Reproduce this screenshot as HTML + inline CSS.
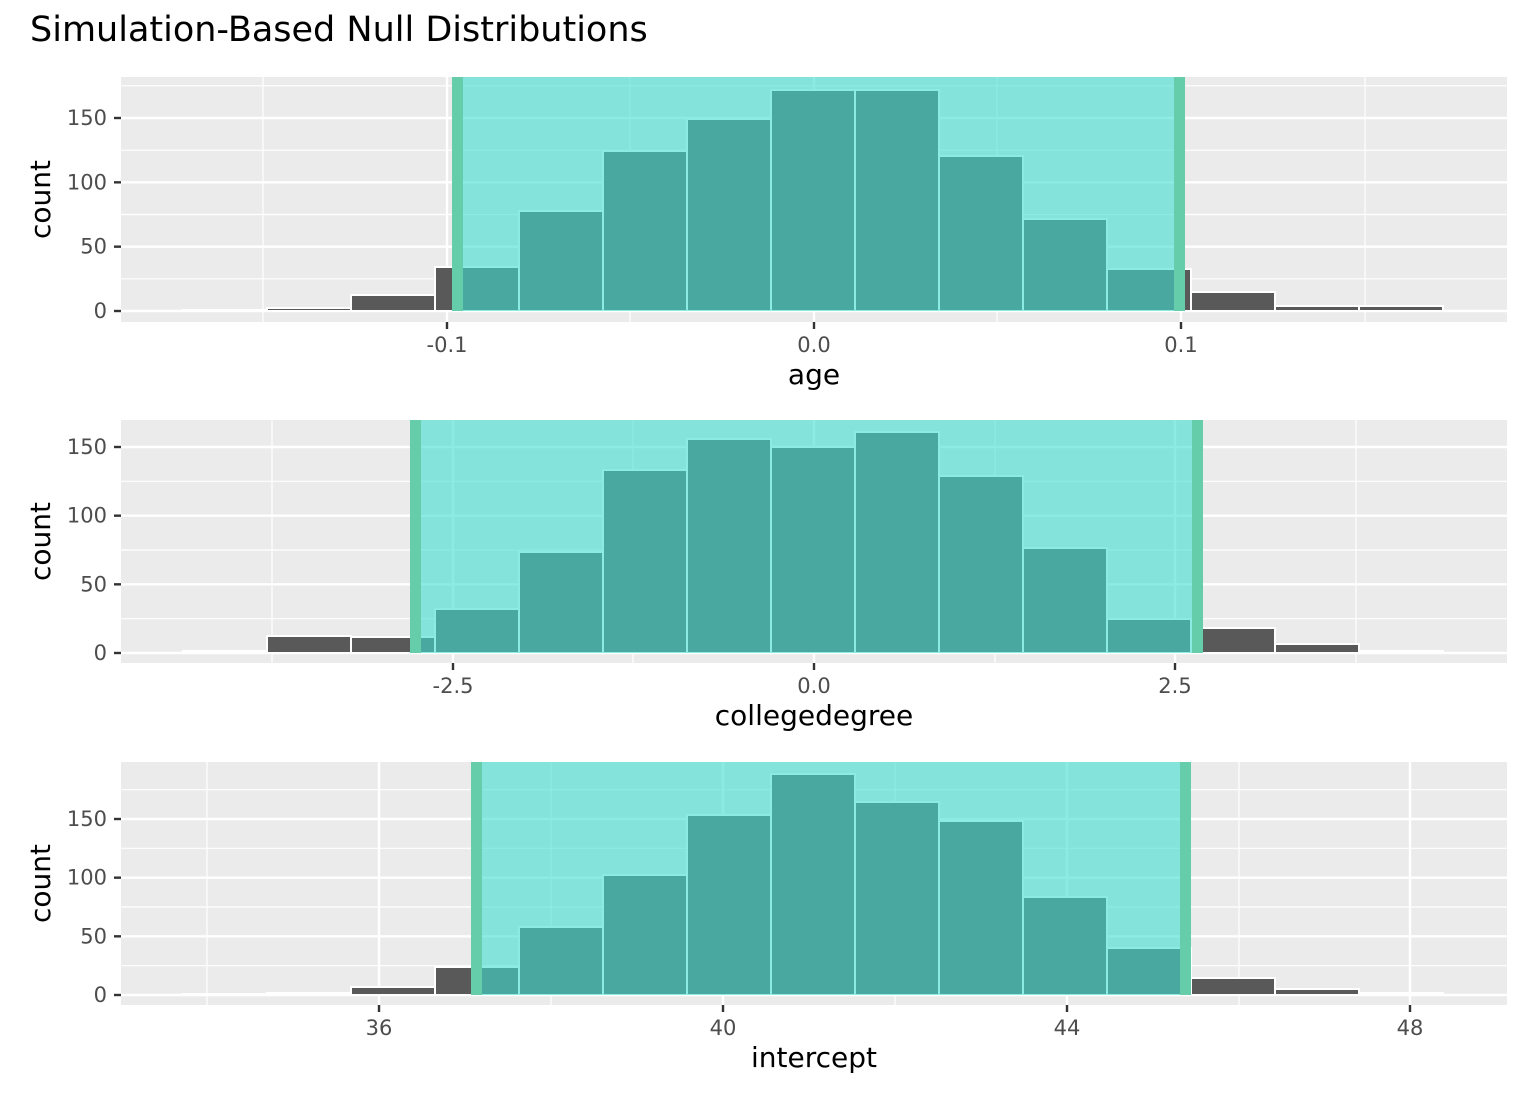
<!DOCTYPE html>
<html><head><meta charset="utf-8"><style>body{margin:0;background:#fff}svg{display:block}</style></head>
<body>
<svg id="s" width="1536" height="1104" xmlns="http://www.w3.org/2000/svg" font-family="DejaVu Sans, sans-serif"></svg>
<script>
const P=[
 {top:77,bot:322,base:311,per:(311-118)/150,yt:[0,50,100,150],xt:[[447,"-0.1"],[814,"0.0"],[1181,"0.1"]],xm:[263,630,997,1365],
  tops:[310,308,295,267,211,151,119,90,90,156,219,269,292,306,306],sh:[452,1185],lab:"age"},
 {top:420,bot:663,base:653,per:(653-447)/150,yt:[0,50,100,150],xt:[[453,"-2.5"],[814,"0.0"],[1175,"2.5"]],xm:[272,633,995,1356],
  tops:[651,636,637,609,552,470,439,447,432,476,548,619,628,644,651],sh:[410,1203],lab:"collegedegree"},
 {top:762,bot:1005,base:995,per:(995-819)/150,yt:[0,50,100,150],xt:[[379,"36"],[723,"40"],[1067,"44"],[1410,"48"]],xm:[207,551,895,1239],
  tops:[994,993,987,967,927,875,815,774,802,821,897,948,978,989,993],sh:[471,1191],lab:"intercept"}];
let h='<text x="30" y="41" font-size="35" fill="#000">Simulation-Based Null Distributions</text>';
for(const p of P){
 h+=`<rect x="121" y="${p.top}" width="1386" height="${p.bot-p.top}" fill="#EBEBEB"/>`;
 for(let c=25;;c+=50){const y=p.base-c*p.per;if(y<p.top)break;h+=`<line x1="121" x2="1507" y1="${y}" y2="${y}" stroke="#fff" stroke-width="1.2"/>`;}
 for(const x of p.xm)h+=`<line x1="${x}" x2="${x}" y1="${p.top}" y2="${p.bot}" stroke="#fff" stroke-width="1.2"/>`;
 for(const c of p.yt){const y=p.base-c*p.per;h+=`<line x1="121" x2="1507" y1="${y}" y2="${y}" stroke="#fff" stroke-width="2.4"/>`;
  h+=`<line x1="114" x2="121" y1="${y}" y2="${y}" stroke="#333" stroke-width="2.4"/>`;
  h+=`<text x="107" y="${y+7}" font-size="21" fill="#4D4D4D" text-anchor="end">${c}</text>`;}
 for(const [x,t] of p.xt){h+=`<line x1="${x}" x2="${x}" y1="${p.top}" y2="${p.bot}" stroke="#fff" stroke-width="2.4"/>`;
  h+=`<line x1="${x}" x2="${x}" y1="${p.bot}" y2="${p.bot+7}" stroke="#333" stroke-width="2.4"/>`;
  h+=`<text x="${x}" y="${p.bot+30}" font-size="21" fill="#4D4D4D" text-anchor="middle">${t}</text>`;}
 p.tops.forEach((t,i)=>{const x=183+84*i;h+=`<rect x="${x}" y="${t}" width="84" height="${p.base-t}" fill="#595959" stroke="#fff" stroke-width="2"/>`;});
 h+=`<rect x="${p.sh[0]}" y="${p.top}" width="${p.sh[1]-p.sh[0]}" height="${p.base-p.top}" fill="rgb(64,224,208)" fill-opacity="0.6"/>`;
 h+=`<rect x="${p.sh[0]}" y="${p.top}" width="11" height="${p.base-p.top}" fill="#66CDAA"/>`;
 h+=`<rect x="${p.sh[1]-11}" y="${p.top}" width="11" height="${p.base-p.top}" fill="#66CDAA"/>`;
 h+=`<text x="814" y="${p.bot+62}" font-size="28" fill="#000" text-anchor="middle">${p.lab}</text>`;
 const my=(p.top+p.bot)/2;
 h+=`<text transform="translate(50,${my}) rotate(-90)" font-size="28" fill="#000" text-anchor="middle">count</text>`;
}
document.getElementById('s').innerHTML=h;
</script>
</body></html>
